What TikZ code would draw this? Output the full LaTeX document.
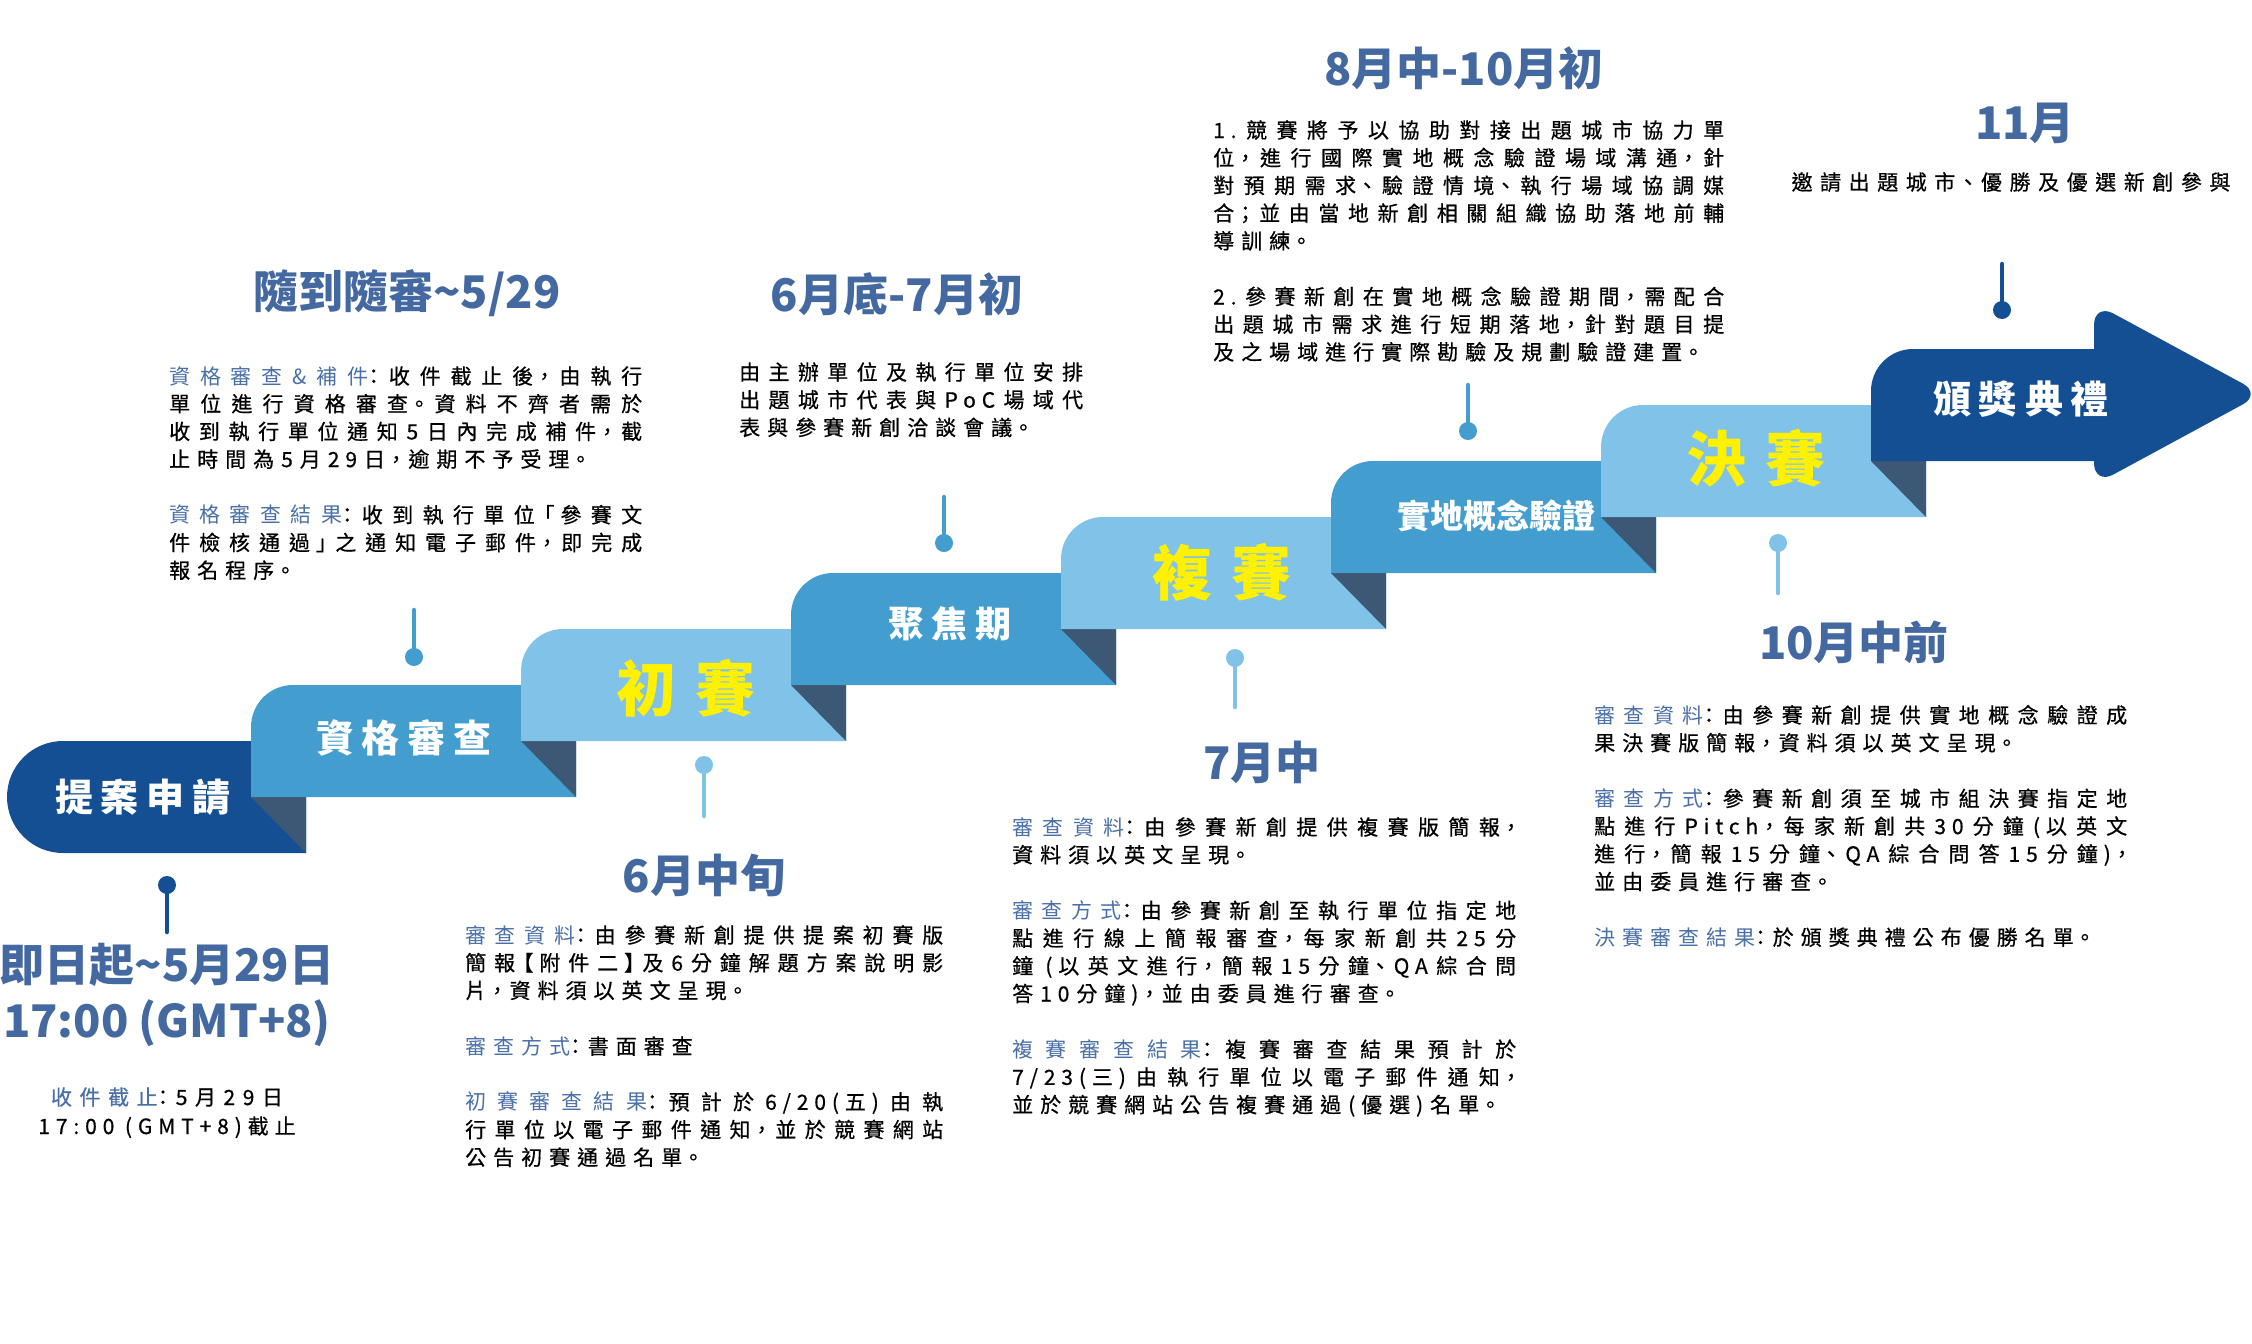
\documentclass[tikz,border=0pt]{standalone}
\usepackage{fontspec}
\setmainfont{Noto Sans CJK TC}
\newfontfamily\cjkls[LetterSpace=28,RawFeature=+halt,FakeBold=0.6]{Noto Sans CJK TC}
\newfontfamily\cjkwide[LetterSpace=36,RawFeature=+halt,FakeBold=0.6]{Noto Sans CJK TC}
\newfontfamily\cjklbl[LetterSpace=28,RawFeature=+halt]{Noto Sans CJK TC}
\newfontfamily\cjkbox[LetterSpace=21]{Noto Sans CJK TC}
\newfontfamily\cjkbig[LetterSpace=33]{Noto Sans CJK TC}
\XeTeXlinebreaklocale "zh"
\XeTeXlinebreakskip=7pt plus 5pt minus 2pt
\tolerance=9999 \hbadness=10000 \hfuzz=10pt
\definecolor{dkblue}{RGB}{20,79,148}
\definecolor{mdblue}{RGB}{67,157,207}
\definecolor{ltblue}{RGB}{128,194,232}
\definecolor{fold}{RGB}{60,88,116}
\definecolor{ylw}{RGB}{255,241,0}
\definecolor{headblue}{RGB}{68,105,161}
\definecolor{lblblue}{RGB}{74,112,168}
\newcommand{\lbl}[1]{{\cjklbl\color{lblblue}#1}}
\newcommand{\pgap}{\par\vspace{28pt}}
\newcommand{\stepbox}[3]{%
 \fill[#3] ({#1},{#2+112}) -- ({#1},{#2+42}) .. controls ({#1},{#2+18.8}) and ({#1+18.8},{#2}) .. ({#1+42},{#2}) -- ({#1+325},{#2}) -- ({#1+325},{#2+112}) -- cycle;
 \fill[fold] ({#1+270},{#2+56}) -- ({#1+325},{#2+56}) -- ({#1+325},{#2+112}) -- cycle;}
\tikzset{
 heading/.style={inner sep=0pt, text=headblue, font=\bfseries\fontsize{45}{50}\selectfont},
 body/.style={inner sep=0pt, anchor=base west, align=justify, text=black, font=\cjkls\fontsize{21}{27.7}\selectfont},
 oneline/.style={inner sep=0pt, anchor=base, text=black, font=\cjkwide\fontsize{21}{27.7}\selectfont},
 boxlbl/.style={inner sep=0pt, text=white, font=\cjkbox\bfseries\fontsize{38}{40}\selectfont},
 bigylw/.style={inner sep=0pt, text=ylw, font=\cjkbig\bfseries\fontsize{60}{62}\selectfont},
 dot/.style={circle, inner sep=0pt, minimum size=18pt},
 pin/.style={line width=4.5pt, line cap=round},
}
\begin{document}
\begin{tikzpicture}[x=1pt,y=-1pt]
\useasboundingbox (0,0) rectangle (2252,1344);
\fill[white] (0,0) rectangle (2252,1344);

% step ribbon
\fill[dkblue] (306,853) -- (63,853) .. controls (32.1,853) and (7,827.9) .. (7,797) .. controls (7,766.1) and (32.1,741) .. (63,741) -- (306,741) -- cycle;
\fill[fold] (251,797) -- (306,797) -- (306,853) -- cycle;
\stepbox{251}{685}{mdblue}
\stepbox{521}{629}{ltblue}
\stepbox{791}{573}{mdblue}
\stepbox{1061}{517}{ltblue}
\stepbox{1331}{461}{mdblue}
\stepbox{1601}{405}{ltblue}
% arrow
\fill[dkblue] (1871,461) -- (1871,391) .. controls (1871,367.8) and (1889.8,349) .. (1913,349) -- (2110,349) -- (2110,461) -- cycle;
\fill[dkblue, rounded corners=22pt] (2094,303) -- (2262,394) -- (2094,485) -- cycle;

% box labels
\node[boxlbl] (lb0) at (143,797) {提案申請};
\node[boxlbl] (lb1) at (404,738) {資格審查};
\node[bigylw] (lb2) at (686,688) {初賽};
\node[boxlbl, font=\cjkbox\bfseries\fontsize{36}{40}\selectfont] (lb3) at (950,624) {聚焦期};
\node[bigylw] (lb4) at (1222,572) {複賽};
\node[boxlbl, font=\bfseries\fontsize{33}{36}\selectfont] (lb5) at (1496,516) {實地概念驗證};
\node[bigylw] (lb6) at (1756,458) {決賽};
\node[boxlbl] (lb7) at (2021,399) {頒獎典禮};

% pins
\node[dot, fill=dkblue] (d0) at (167,885) {}; \coordinate (e0) at (167,932); \draw[pin, dkblue] (d0) -- (e0);
\node[dot, fill=mdblue] (d1) at (414,657) {}; \coordinate (e1) at (414,610); \draw[pin, mdblue] (d1) -- (e1);
\node[dot, fill=ltblue] (d2) at (704,765) {}; \coordinate (e2) at (704,816); \draw[pin, ltblue] (d2) -- (e2);
\node[dot, fill=mdblue] (d3) at (944,543) {}; \coordinate (e3) at (944,497); \draw[pin, mdblue] (d3) -- (e3);
\node[dot, fill=ltblue] (d4) at (1235,658) {}; \coordinate (e4) at (1235,707); \draw[pin, ltblue] (d4) -- (e4);
\node[dot, fill=mdblue] (d5) at (1468,431) {}; \coordinate (e5) at (1468,385); \draw[pin, mdblue] (d5) -- (e5);
\node[dot, fill=ltblue] (d6) at (1778,543) {}; \coordinate (e6) at (1778,593); \draw[pin, ltblue] (d6) -- (e6);
\node[dot, fill=dkblue] (d7) at (2002,310) {}; \coordinate (e7) at (2002,264); \draw[pin, dkblue] (d7) -- (e7);

% headings
\node[heading] (h1) at (407,293) {隨到隨審\textasciitilde 5/29};
\node[heading] (h2) at (167,965) {即日起\textasciitilde 5月29日};
\node[heading] (h3) at (167,1023) {17:00 (GMT+8)};
\node[heading] (h4) at (704,875) {6月中旬};
\node[heading] (h5) at (897,294) {6月底-7月初};
\node[heading] (h6) at (1262,762) {7月中};
\node[heading] (h7) at (1464,68) {8月中-10月初};
\node[heading] (h8) at (1854,642) {10月中前};
\node[heading] (h9) at (2025,123) {11月};

% small texts
\node[oneline] (s1) at (167,1105) {{\color{lblblue}收件截止}：5月29日};
\node[oneline, font=\cjkls\fontsize{21}{27.7}\selectfont] (s2) at (167,1134) {17:00 (GMT+8)截止};
\node[oneline] (tH) at (2011,190) {邀請出題城市、優勝及優選新創參與};

% body blocks
\node[body, text width=473pt] (tA) at (169,384) {\lbl{資格審查\&補件}：收件截止後，由執行\linebreak 單位進行資格審查。資料不齊者需於\linebreak 收到執行單位通知5日內完成補件，截\linebreak 止時間為5月29日，逾期不予受理。\pgap \lbl{資格審查結果}：收到執行單位「參賽文\linebreak 件檢核通過」之通知電子郵件，即完成\linebreak 報名程序。};

\node[body, text width=478pt] (tC) at (465,943) {\lbl{審查資料}：由參賽新創提供提案初賽版\linebreak 簡報【附件二】及6分鐘解題方案說明影\linebreak 片，資料須以英文呈現。\pgap \lbl{審查方式}：書面審查\pgap \lbl{初賽審查結果}：預計於6/20(五)由執\linebreak 行單位以電子郵件通知，並於競賽網站\linebreak 公告初賽通過名單。};

\node[body, text width=344pt] (tD) at (739,380) {由主辦單位及執行單位安排\linebreak 出題城市代表與PoC場域代\linebreak 表與參賽新創洽談會議。};

\node[body, text width=504pt] (tE) at (1012,835) {\lbl{審查資料}：由參賽新創提供複賽版簡報，\linebreak 資料須以英文呈現。\pgap \lbl{審查方式}：由參賽新創至執行單位指定地\linebreak 點進行線上簡報審查，每家新創共25分\linebreak 鐘 (以英文進行，簡報15分鐘、QA綜合問\linebreak 答10分鐘)，並由委員進行審查。\pgap \lbl{複賽審查結果}：複賽審查結果預計於\linebreak 7/23(三)由執行單位以電子郵件通知，\linebreak 並於競賽網站公告複賽通過(優選)名單。};

\node[body, text width=511pt] (tF) at (1213,138) {1.競賽將予以協助對接出題城市協力單\linebreak 位，進行國際實地概念驗證場域溝通，針\linebreak 對預期需求、驗證情境、執行場域協調媒\linebreak 合；並由當地新創相關組織協助落地前輔\linebreak 導訓練。\pgap 2.參賽新創在實地概念驗證期間，需配合\linebreak 出題城市需求進行短期落地，針對題目提\linebreak 及之場域進行實際勘驗及規劃驗證建置。};

\node[body, text width=533pt] (tG) at (1594,723) {\lbl{審查資料}：由參賽新創提供實地概念驗證成\linebreak 果決賽版簡報，資料須以英文呈現。\pgap \lbl{審查方式}：參賽新創須至城市組決賽指定地\linebreak 點進行Pitch，每家新創共30分鐘(以英文\linebreak 進行，簡報15分鐘、QA綜合問答15分鐘)，\linebreak 並由委員進行審查。\pgap \lbl{決賽審查結果}：於頒獎典禮公布優勝名單。};
\end{tikzpicture}
\end{document}
